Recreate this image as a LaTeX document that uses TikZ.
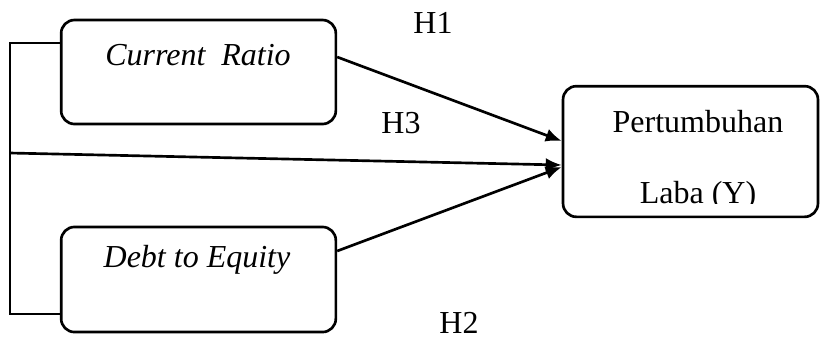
\documentclass[tikz,border=0pt]{standalone}
\usepackage{fontspec}
\setmainfont{Liberation Serif}
\usetikzlibrary{calc,arrows.meta}

\begin{document}
\begin{tikzpicture}[x=0.375pt,y=-0.375pt,line width=1pt,font=\fontsize{12}{14}\selectfont,
    box/.style={draw,rounded corners=5pt,inner sep=0pt},
    link/.style={-{Latex[length=6pt,width=5pt]}}]
  \useasboundingbox (0,0) rectangle (820,338);

  \node[box,minimum width=103pt,minimum height=39pt] (cr) at (198.5,72) {};
  \node (cr text) at (198,55) {\textit{Current\ \ Ratio}};

  \node[box,minimum width=103pt,minimum height=39.4pt] (de) at (198.5,279.5) {};
  \node (de text) at (197,260) {\textit{Debt to Equity}};

  \node[box,minimum width=95.6pt,minimum height=49pt] (py) at (690.5,151.5) {};
  \node (py text) at (698,122) {Pertumbuhan};
  \begin{scope}
    \clip (563,86) rectangle (818,203);
    \node (py text2) at (698,196) {Laba (Y)};
  \end{scope}

  \coordinate (top) at (10,43);
  \coordinate (mid) at (10,153);
  \coordinate (bot) at (10,314);
  \draw (top -| cr.west) -- (top) -- (bot) -- (bot -| de.west);

  \draw[link] ($(cr.east)+(0,-15)$) -- ($(py.west)+(0,-10.5)$);
  \draw[link] (mid) -- ($(py.west)+(0,13.5)$);
  \draw[link] ($(de.east)+(0,-28.5)$) -- ($(py.west)+(0,15.5)$);

  \node (h1) at (433,23) {H1};
  \node (h3) at (401,123) {H3};
  \node (h2) at (459,323) {H2};
\end{tikzpicture}
\end{document}
